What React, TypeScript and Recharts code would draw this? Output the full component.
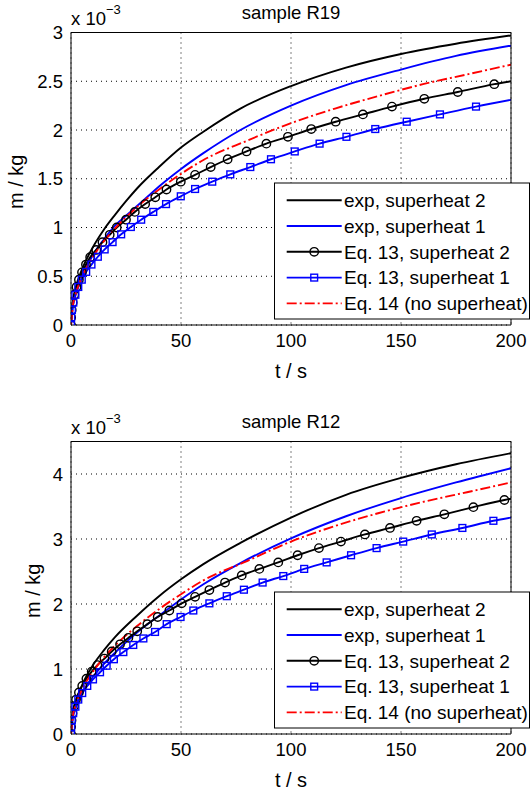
import React from 'react';
import { LineChart, Line, XAxis, YAxis, CartesianGrid } from 'recharts';

type Pt = [number, number];

const FONT = '"Liberation Sans", Arial, Helvetica, sans-serif';

const LABELS = [
  'exp, superheat 2',
  'exp, superheat 1',
  'Eq. 13, superheat 2',
  'Eq. 13, superheat 1',
  'Eq. 14 (no superheat)',
];

const X_TICKS = [0, 50, 100, 150, 200];
const R19_Y_TICKS = [0, 0.5, 1, 1.5, 2, 2.5, 3];
const R12_Y_TICKS = [0, 1, 2, 3, 4];

// t in s, m in 1e-3 kg
const R19_EXP_SH2: Pt[] = [[0, 0], [1, 0.26], [2, 0.37], [5, 0.57], [10, 0.8], [15, 0.98], [20, 1.13], [25, 1.27], [30, 1.4], [40, 1.62], [50, 1.82], [60, 1.98], [77, 2.22], [100, 2.45], [125, 2.64], [150, 2.78], [175, 2.885], [200, 2.97]];
const R19_EXP_SH1: Pt[] = [[0, 0], [1, 0.21], [2, 0.3], [5, 0.49], [10, 0.72], [15, 0.88], [20, 1.02], [25, 1.12], [30, 1.22], [35, 1.32], [40, 1.42], [50, 1.6], [60, 1.76], [77, 2.0], [100, 2.25], [125, 2.46], [150, 2.62], [175, 2.76], [200, 2.865]];
const R19_EQ13_SH2: Pt[] = [[0, 0], [0.07, 0.078], [0.32, 0.155], [0.78, 0.23], [1.5, 0.31], [2.5, 0.39], [3.6, 0.465], [5.0, 0.54], [6.8, 0.62], [8.7, 0.695], [11.5, 0.77], [14.3, 0.85], [17.6, 0.925], [20.8, 1.0], [25.0, 1.08], [29.0, 1.16], [33.7, 1.24], [38.3, 1.31], [43.4, 1.39], [49.9, 1.47], [56.4, 1.54], [63.5, 1.62], [71.2, 1.7], [79.8, 1.78], [88.8, 1.86], [98.6, 1.93], [109.2, 2.01], [120.3, 2.085], [132.7, 2.16], [145.9, 2.24], [160.6, 2.32], [175.8, 2.39], [192.4, 2.47], [200, 2.5]];
const R19_EQ13_SH1: Pt[] = [[0, 0], [0.1, 0.078], [0.43, 0.155], [1.05, 0.23], [2.0, 0.31], [3.3, 0.39], [4.9, 0.465], [6.9, 0.545], [9.3, 0.62], [12.2, 0.7], [15.3, 0.775], [18.9, 0.85], [22.8, 0.93], [27.2, 1.005], [31.9, 1.08], [37.4, 1.16], [43.2, 1.24], [49.9, 1.32], [56.4, 1.395], [64.2, 1.47], [72.4, 1.545], [81.5, 1.62], [90.9, 1.7], [101.7, 1.78], [113, 1.86], [125.2, 1.93], [138.3, 2.01], [152.6, 2.085], [167.7, 2.16], [184.1, 2.24], [200, 2.31]];
const R19_EQ14: Pt[] = [[0, 0], [1, 0.22], [2, 0.31], [5, 0.49], [10, 0.7], [15, 0.86], [20, 0.99], [30, 1.21], [40, 1.39], [50, 1.55], [60, 1.69], [80, 1.89], [100, 2.07], [120, 2.22], [140, 2.35], [160, 2.47], [180, 2.57], [200, 2.67]];

const R12_EXP_SH2: Pt[] = [[0, 0], [1, 0.34], [2, 0.48], [5, 0.75], [10, 1.06], [15, 1.29], [20, 1.49], [30, 1.82], [40, 2.12], [50, 2.38], [60, 2.61], [77, 2.94], [100, 3.33], [125, 3.68], [150, 3.94], [175, 4.15], [200, 4.32]];
const R12_EXP_SH1: Pt[] = [[0, 0], [1, 0.27], [2, 0.39], [5, 0.62], [10, 0.88], [15, 1.08], [20, 1.25], [30, 1.56], [40, 1.82], [50, 2.07], [60, 2.3], [77, 2.63], [100, 3.01], [125, 3.35], [150, 3.63], [175, 3.87], [200, 4.09]];
const R12_EQ13_SH2: Pt[] = [[0, 0], [0.05, 0.11], [0.25, 0.21], [0.69, 0.32], [1.4, 0.43], [2.3, 0.53], [3.6, 0.64], [5.1, 0.74], [7.0, 0.85], [9.4, 0.96], [12.0, 1.06], [15.2, 1.16], [18.5, 1.27], [22.3, 1.38], [26.1, 1.48], [30.1, 1.58], [34.7, 1.69], [39.4, 1.8], [44.7, 1.9], [50.3, 2.01], [56.4, 2.11], [62.9, 2.215], [70, 2.33], [77.6, 2.44], [85.6, 2.54], [94.2, 2.64], [103, 2.75], [112.7, 2.86], [122.7, 2.96], [133.6, 3.07], [145, 3.17], [157.1, 3.28], [169.7, 3.38], [182.9, 3.49], [197, 3.6], [200, 3.62]];
const R12_EQ13_SH1: Pt[] = [[0, 0], [0.07, 0.105], [0.37, 0.21], [1.0, 0.32], [2.0, 0.42], [3.3, 0.53], [5.1, 0.63], [7.4, 0.74], [10.0, 0.84], [13.2, 0.95], [16.2, 1.05], [19.5, 1.15], [23.8, 1.26], [28.3, 1.37], [32.9, 1.47], [38.2, 1.57], [43.5, 1.69], [49.8, 1.8], [55.6, 1.9], [62.9, 2.01], [70.8, 2.12], [78.6, 2.22], [87.1, 2.33], [96.5, 2.43], [106, 2.54], [116.2, 2.64], [127.3, 2.75], [138.9, 2.86], [151, 2.96], [164, 3.07], [177.9, 3.17], [192, 3.28], [200, 3.33]];
const R12_EQ14: Pt[] = [[0, 0], [1, 0.31], [2, 0.43], [5, 0.68], [10, 0.96], [15, 1.18], [20, 1.36], [30, 1.66], [40, 1.92], [50, 2.15], [60, 2.36], [80, 2.66], [100, 2.96], [120, 3.2], [140, 3.4], [160, 3.57], [180, 3.72], [200, 3.87]];

const steps = (max: number, step: number) =>
  Array.from({ length: Math.floor(max / step + 1e-9) + 1 }, (_, i) => Math.round(i * step * 1000) / 1000);

const X_MINOR = steps(200, 5);

const STYLES = [
  { stroke: '#000000', marker: '', dash: undefined as string | undefined },
  { stroke: '#0000ff', marker: '', dash: undefined },
  { stroke: '#000000', marker: 'circle', dash: undefined },
  { stroke: '#0000ff', marker: 'square', dash: undefined },
  { stroke: '#ff0000', marker: '', dash: '10 3 2 3' },
];

const W = 531;
const LEFT = 71;
const RIGHT = 511;

function marker(kind: string, color: string, cx: number, cy: number, key?: string) {
  if (kind === 'circle') return <circle key={key} cx={cx} cy={cy} r={4.2} fill="none" stroke={color} strokeWidth={1.4} />;
  return <rect key={key} x={cx - 3.4} y={cy - 3.4} width={6.8} height={6.8} fill="none" stroke={color} strokeWidth={1.4} />;
}

type PanelProps = {
  top: number;
  height: number;
  plotTop: number;
  plotBottom: number;
  title: string;
  yMax: number;
  yTicks: number[];
  yMinor: number[];
  yLabelX: number;
  series: Pt[][];
};

function Panel(p: PanelProps) {
  const rows = p.series.map((pts) => pts.map(([t, m]) => ({ t, m })));
  const mid = (p.plotTop + p.plotBottom) / 2;
  const tickStyle = { fontSize: 18.5, fill: '#000', fontFamily: FONT };
  const ink = { stroke: '#000', strokeWidth: 1 };
  const legTop = p.plotTop + 150;

  return (
    <div style={{ position: 'absolute', left: 0, top: p.top, width: W, height: p.height }}>
      <LineChart
        width={W}
        height={p.height}
        margin={{ top: p.plotTop, right: W - RIGHT, bottom: p.height - p.plotBottom - 30, left: LEFT - 40 }}
      >
        <CartesianGrid stroke="#000" strokeDasharray="1 4" strokeWidth={1} />
        <XAxis type="number" dataKey="t" domain={[0, 200]} allowDataOverflow ticks={X_TICKS} height={30}
          tickSize={0} tickMargin={9} tickLine={false} axisLine={ink} tick={tickStyle} />
        <YAxis type="number" domain={[0, p.yMax]} allowDataOverflow ticks={p.yTicks} width={40}
          tickSize={0} tickMargin={8} tickLine={false} axisLine={ink} tick={tickStyle} />

        <XAxis xAxisId="bMaj" type="number" domain={[0, 200]} allowDataOverflow ticks={X_TICKS} mirror tick={false} tickSize={5} axisLine={false} tickLine={ink} />
        <XAxis xAxisId="bMin" type="number" domain={[0, 200]} allowDataOverflow ticks={X_MINOR} mirror tick={false} tickSize={3} axisLine={false} tickLine={ink} />
        <XAxis xAxisId="tMaj" orientation="top" type="number" domain={[0, 200]} allowDataOverflow ticks={X_TICKS} mirror tick={false} tickSize={5} axisLine={ink} tickLine={ink} />
        <XAxis xAxisId="tMin" orientation="top" type="number" domain={[0, 200]} allowDataOverflow ticks={X_MINOR} mirror tick={false} tickSize={3} axisLine={false} tickLine={ink} />
        <YAxis yAxisId="lMaj" type="number" domain={[0, p.yMax]} allowDataOverflow ticks={p.yTicks} mirror tick={false} tickSize={5} axisLine={false} tickLine={ink} />
        <YAxis yAxisId="lMin" type="number" domain={[0, p.yMax]} allowDataOverflow ticks={p.yMinor} mirror tick={false} tickSize={3} axisLine={false} tickLine={ink} />
        <YAxis yAxisId="rMaj" orientation="right" type="number" domain={[0, p.yMax]} allowDataOverflow ticks={p.yTicks} mirror tick={false} tickSize={5} axisLine={ink} tickLine={ink} />
        <YAxis yAxisId="rMin" orientation="right" type="number" domain={[0, p.yMax]} allowDataOverflow ticks={p.yMinor} mirror tick={false} tickSize={3} axisLine={false} tickLine={ink} />

        {rows.map((data, i) => {
          const s = STYLES[i];
          const last = data.length - 1;
          const dot = s.marker
            ? (d: any) =>
                d.index === last || d.cx == null
                  ? <g key={`d${i}-${d.index}`} />
                  : marker(s.marker, s.stroke, d.cx, d.cy, `d${i}-${d.index}`)
            : false;
          return (
            <Line
              key={LABELS[i]}
              data={data}
              dataKey="m"
              name={LABELS[i]}
              type="monotone"
              stroke={s.stroke}
              strokeWidth={1.9}
              strokeDasharray={s.dash}
              dot={dot as any}
              activeDot={false}
              isAnimationActive={false}
            />
          );
        })}
      </LineChart>

      <svg width={W} height={p.height} style={{ position: 'absolute', left: 0, top: 0, overflow: 'visible', pointerEvents: 'none' }} fontFamily={FONT}>
        <text x={(LEFT + RIGHT) / 2} y={p.plotTop - 13.5} fontSize={18.5} textAnchor="middle">{p.title}</text>
        <text x={LEFT} y={p.plotTop - 8} fontSize={18.5}>x 10</text>
        <text x={106} y={p.plotTop - 19} fontSize={13}>−3</text>
        <text x={(LEFT + RIGHT) / 2} y={p.plotBottom + 53} fontSize={20} textAnchor="middle">t / s</text>
        <text transform={`translate(${p.yLabelX},${mid + 3}) rotate(-90)`} fontSize={20} textAnchor="middle">m / kg</text>

        <g transform={`translate(274,${legTop})`}>
          <rect x={0.5} y={0.5} width={255} height={136} fill="#fff" stroke="#000" strokeWidth={1} />
          {LABELS.map((label, i) => {
            const s = STYLES[i];
            const cy = 17.7 + 25.8 * i;
            return (
              <g key={label}>
                <line x1={12.7} x2={67.7} y1={cy} y2={cy} stroke={s.stroke} strokeWidth={1.9} strokeDasharray={s.dash} />
                {s.marker ? marker(s.marker, s.stroke, 40.2, cy) : null}
                <text x={70} y={cy + 6.8} fontSize={19}>{label}</text>
              </g>
            );
          })}
        </g>
      </svg>
    </div>
  );
}

export default function App() {
  return (
    <div style={{ position: 'absolute', left: 0, top: 0, width: W, height: 794, background: '#fff' }}>
      <Panel
        top={0}
        height={397}
        plotTop={32.5}
        plotBottom={325}
        title="sample R19"
        yMax={3}
        yTicks={R19_Y_TICKS}
        yMinor={steps(3, 0.1)}
        yLabelX={22.6}
        series={[R19_EXP_SH2, R19_EXP_SH1, R19_EQ13_SH2, R19_EQ13_SH1, R19_EQ14]}
      />
      <Panel
        top={397}
        height={397}
        plotTop={44.5}
        plotBottom={337}
        title="sample R12"
        yMax={4.5}
        yTicks={R12_Y_TICKS}
        yMinor={steps(4.5, 0.2)}
        yLabelX={40}
        series={[R12_EXP_SH2, R12_EXP_SH1, R12_EQ13_SH2, R12_EQ13_SH1, R12_EQ14]}
      />
    </div>
  );
}
